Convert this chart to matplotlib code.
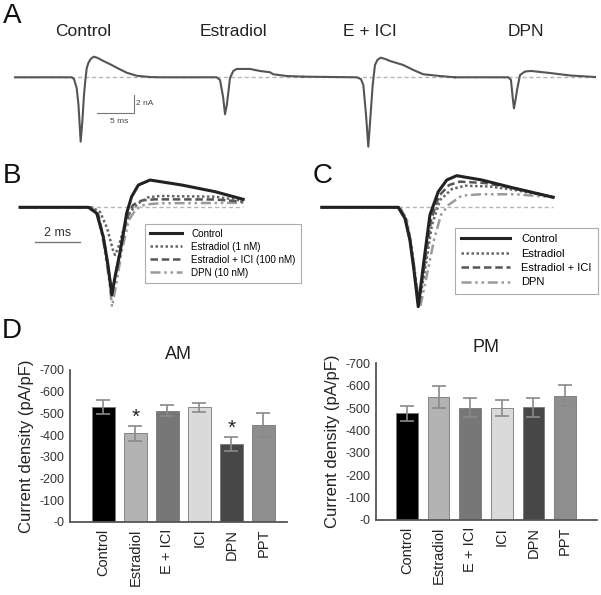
import matplotlib
matplotlib.use("Agg")
import matplotlib.pyplot as plt
from matplotlib.ticker import FuncFormatter

plt.rcParams['font.family'] = ['Liberation Sans', 'DejaVu Sans']

W, H = 601, 595

# ---------------- Panel A data (time in ms, current in nA) ----------------
a_titles = ["Control", "Estradiol", "E + ICI", "DPN"]
a_title_t = [9.3, 29.8, 48.4, 69.7]

a_ctrl_t = [0, 7.73, 8.05, 8.42, 8.66, 8.96, 9.2, 9.41, 9.6, 9.78, 10.0, 10.23, 10.5, 10.78, 11.3, 12.05, 13.0, 13.87, 15.24, 16.6, 18.4]
a_ctrl_i = [0, 0, -0.19, -1.2, -3.0, -7.02, -4.66, -1.93, -0.3, 0.98, 1.55, 1.89, 2.12, 2.25, 2.1, 1.78, 1.42, 1.05, 0.5, 0.17, 0.03]

a_estr_t = [18.4, 19.8, 27.5, 27.97, 28.4, 28.65, 28.9, 29.06, 29.33, 29.78, 30.25, 32.06, 33.42, 34.79, 35.24, 37.07, 39.33]
a_estr_i = [0.03, 0, 0, -0.29, -2.2, -4.03, -3.0, -1.93, -0.08, 0.69, 0.91, 0.91, 0.69, 0.55, 0.33, 0.14, 0.07]

a_eici_t = [39.33, 46.62, 47.2, 47.52, 47.9, 48.2, 48.5, 48.8, 49.11, 49.45, 49.89, 50.5, 51.16, 52.97, 54.34, 55.7, 57.98, 60.0]
a_eici_i = [0.07, 0, -0.2, -0.84, -4.2, -7.57, -4.2, -0.84, 1.34, 1.9, 2.14, 2.0, 1.78, 1.34, 0.8, 0.33, 0.14, 0]

a_dpn_t = [60.0, 67.3, 67.66, 67.9, 68.07, 68.3, 68.49, 68.9, 69.58, 70.4, 72.98, 75.7, 79.13]
a_dpn_i = [0, 0, -0.29, -2.2, -3.38, -2.4, -1.38, 0.25, 0.63, 0.69, 0.47, 0.2, 0.03]

# ---------------- Panel B data (time ms, normalized current) ----------------
b_labels = ["Control", "Estradiol (1 nM)", "Estradiol + ICI (100 nM)", "DPN (10 nM)"]
b_ctrl_t = [0, 3.04, 3.41, 3.70, 3.91, 4.08, 4.24, 4.44, 4.74, 4.96, 5.26, 5.78, 7.19, 8.67, 9.92]
b_ctrl_i = [0, 0, -0.068, -0.335, -0.658, -1.0, -0.772, -0.524, -0.068, 0.121, 0.254, 0.311, 0.254, 0.178, 0.091]
b_estr_t = [0, 3.2, 3.56, 3.87, 4.13, 4.22, 4.36, 4.62, 4.89, 5.26, 5.7, 6.22, 8.67, 9.92]
b_estr_i = [0, 0, -0.054, -0.236, -0.487, -0.544, -0.464, -0.236, -0.054, 0.046, 0.114, 0.129, 0.121, 0.075]
b_eici_t = [0, 3.11, 3.47, 3.73, 3.93, 4.09, 4.27, 4.49, 4.76, 5.02, 5.42, 6.0, 8.67, 9.92]
b_eici_i = [0, 0, -0.076, -0.373, -0.715, -0.977, -0.738, -0.43, -0.122, 0.026, 0.078, 0.091, 0.089, 0.064]
b_dpn_t = [0, 3.11, 3.47, 3.73, 3.96, 4.09, 4.27, 4.53, 4.84, 5.16, 5.56, 6.22, 8.67, 9.92]
b_dpn_i = [0, 0, -0.088, -0.43, -0.829, -1.133, -0.886, -0.487, -0.145, -0.019, 0.032, 0.046, 0.049, 0.052]

# ---------------- Panel C data ----------------
c_labels = ["Control", "Estradiol", "Estradiol + ICI", "DPN"]
c_ctrl_t = [0, 3.40, 3.70, 3.92, 4.10, 4.29, 4.52, 4.81, 5.18, 5.56, 6.0, 7.11, 8.59, 10.29]
c_ctrl_i = [0, 0, -0.111, -0.329, -0.631, -1.0, -0.58, -0.077, 0.157, 0.275, 0.318, 0.275, 0.191, 0.101]
c_estr_t = [0, 3.44, 3.75, 3.97, 4.15, 4.32, 4.59, 4.9, 5.26, 5.79, 6.37, 7.48, 8.59, 10.29]
c_estr_i = [0, 0, -0.118, -0.379, -0.681, -0.983, -0.631, -0.178, 0.073, 0.184, 0.217, 0.209, 0.174, 0.101]
c_eici_t = [0, 3.41, 3.72, 3.94, 4.12, 4.3, 4.55, 4.86, 5.21, 5.66, 6.14, 7.26, 8.59, 10.29]
c_eici_i = [0, 0, -0.113, -0.349, -0.651, -0.993, -0.611, -0.128, 0.114, 0.224, 0.258, 0.244, 0.191, 0.101]
c_dpn_t = [0, 3.48, 3.79, 4.01, 4.19, 4.37, 4.63, 4.99, 5.3, 5.63, 6.22, 7.04, 8.59, 10.29]
c_dpn_i = [0, 0, -0.128, -0.409, -0.731, -1.012, -0.731, -0.329, -0.077, 0.023, 0.117, 0.131, 0.131, 0.101]

# ---------------- Panel D data ----------------
d_categories = ["Control", "Estradiol", "E + ICI", "ICI", "DPN", "PPT"]
am_values = [531, 407, 512, 527, 358, 446]
am_errors = [32, 36, 25, 21, 34, 55]
pm_values = [476, 550, 501, 500, 503, 555]
pm_errors = [34, 48, 42, 35, 44, 47]
am_sig = [False, True, False, False, True, False]
d_colors = ["#000000", "#b3b3b3", "#777777", "#dadada", "#474747", "#8e8e8e"]

fig = plt.figure(figsize=(W / 100, H / 100), dpi=100)


def rect(x0, y0, x1, y1):
    return [x0 / W, 1 - y1 / H, (x1 - x0) / W, (y1 - y0) / H]


trace_gray = "#555555"
base_gray = "#b5b5b5"

# ---------------- Panel A ----------------
axA = fig.add_axes(rect(0, 0, 601, 160))
axA.set_xlim(-15 / 7.33, (601 - 15) / 7.33)
axA.set_ylim((77.3 - 160) / 9.17, 77.3 / 9.17)
axA.axis("off")
axA.plot([a_ctrl_t[0], a_dpn_t[-1]], [0, 0], ls=(0, (3, 2)), color=base_gray, lw=1.0)
for tt, ii in [(a_ctrl_t, a_ctrl_i), (a_estr_t, a_estr_i), (a_eici_t, a_eici_i), (a_dpn_t, a_dpn_i)]:
    axA.plot(tt, ii, color=trace_gray, lw=1.5, solid_joinstyle="round")
for t, lab in zip(a_title_t, a_titles):
    axA.text(t, (77.3 - 31.5) / 9.17, lab, ha="center", va="center", fontsize=12.5, color="#222222")
# scale bar 5 ms / 2 nA
sb_t0, sb_t1 = 11.23, 16.23
sb_i0, sb_i1 = -3.93, -1.93
axA.plot([sb_t0, sb_t1, sb_t1], [sb_i0, sb_i0, sb_i1], color="#777777", lw=0.8)
axA.text(sb_t1 + 0.3, (sb_i0 + sb_i1) / 2 + 0.05, "2 nA", fontsize=6, va="center", ha="left", color="#444444")
axA.text((sb_t0 + sb_t1) / 2 + 0.5, sb_i0 - 0.85, "5 ms", fontsize=6, va="center", ha="center", color="#444444")

# ---------------- Panel B ----------------
styles = [
    dict(color="#222222", lw=2.2, ls="-"),
    dict(color="#666666", lw=1.8, ls=(0, (1, 1))),
    dict(color="#555555", lw=1.8, ls=(0, (3, 1.5))),
    dict(color="#9a9a9a", lw=1.8, ls=(0, (4, 1.5, 1, 1.5, 1, 1.5))),
]

axB = fig.add_axes(rect(0, 160, 300, 318))
axB.set_xlim(-20 / 22.5, 280 / 22.5)
axB.set_ylim((207.3 - 318) / 87.7, (207.3 - 160) / 87.7)
axB.axis("off")
axB.plot([0, b_ctrl_t[-1]], [0, 0], ls=(0, (3, 2)), color=base_gray, lw=1.0)
linesB = []
for (tt, ii), st, lab in zip([(b_dpn_t, b_dpn_i), (b_eici_t, b_eici_i), (b_estr_t, b_estr_i), (b_ctrl_t, b_ctrl_i)],
                             styles[::-1], b_labels[::-1]):
    ln, = axB.plot(tt, ii, label=lab, **st)
    linesB.append(ln)
linesB = linesB[::-1]
axB.plot([0.667, 2.667], [-0.392, -0.392], color="#777777", lw=1.0)
axB.text(1.667, -0.293, "2 ms", ha="center", va="center", fontsize=9, color="#333333")
legB = fig.legend(handles=linesB, labels=b_labels, loc="upper left",
                  bbox_to_anchor=(145 / W, 1 - 224 / H), fontsize=7.1, frameon=True,
                  fancybox=False, edgecolor="#999999", handlelength=3.3, handletextpad=0.9,
                  labelspacing=0.3, borderpad=0.5, borderaxespad=0)
legB.get_frame().set_linewidth(0.8)

# ---------------- Panel C ----------------
axC = fig.add_axes(rect(300, 160, 601, 318))
axC.set_xlim((300 - 321.7) / 22.5, (601 - 321.7) / 22.5)
axC.set_ylim((207.3 - 318) / 99.4, (207.3 - 160) / 99.4)
axC.axis("off")
axC.plot([0, c_ctrl_t[-1]], [0, 0], ls=(0, (3, 2)), color=base_gray, lw=1.0)
linesC = []
for (tt, ii), st, lab in zip([(c_dpn_t, c_dpn_i), (c_eici_t, c_eici_i), (c_estr_t, c_estr_i), (c_ctrl_t, c_ctrl_i)],
                             styles[::-1], c_labels[::-1]):
    ln, = axC.plot(tt, ii, label=lab, **st)
    linesC.append(ln)
linesC = linesC[::-1]
legC = fig.legend(handles=linesC, labels=c_labels, loc="upper left",
                  bbox_to_anchor=(455 / W, 1 - 228 / H), fontsize=8, frameon=True,
                  fancybox=False, edgecolor="#999999", handlelength=4.4, handletextpad=1.0,
                  labelspacing=0.4, borderpad=0.55, borderaxespad=0)
legC.get_frame().set_linewidth(0.8)

# ---------------- Panel D ----------------
def bar_panel(ax, values, errors, xlim, width, title, sig=None):
    x = list(range(len(values)))
    ax.bar(x, values, width=width, color=d_colors, edgecolor="#777777", linewidth=0.6,
           yerr=errors, error_kw=dict(ecolor="#8a8a8a", elinewidth=1.2, capsize=5, capthick=1.2))
    ax.set_xlim(*xlim)
    ax.set_ylim(0, 700)
    ax.set_yticks(range(0, 701, 100))
    ax.yaxis.set_major_formatter(FuncFormatter(lambda v, p: "-%d" % int(round(v))))
    ax.set_xticks(x)
    ax.set_xticklabels(d_categories, rotation=90, fontsize=10.5, color="#222222")
    ax.tick_params(axis="x", length=0, pad=5)
    ax.tick_params(axis="y", length=0, pad=4, labelsize=9, labelcolor="#333333")
    for s in ["top", "right"]:
        ax.spines[s].set_visible(False)
    for s in ["left", "bottom"]:
        ax.spines[s].set_color("#555555")
        ax.spines[s].set_linewidth(1.3)
    ax.set_ylabel("Current density (pA/pF)", fontsize=12, color="#222222", labelpad=4)
    ax.set_title(title, fontsize=13, color="#222222", pad=8)
    if sig is not None:
        for xi, (v, e, s) in enumerate(zip(values, errors, sig)):
            if s:
                ax.text(xi, v + e + 40, "*", ha="center", va="center", fontsize=15, color="#222222")


axAM = fig.add_axes(rect(70, 370, 286.7, 521.7))
bar_panel(axAM, am_values, am_errors, (-1.04, 5.73), 0.73, "AM", am_sig)
axPM = fig.add_axes(rect(376, 363.3, 596.7, 520))
bar_panel(axPM, pm_values, pm_errors, (-0.98, 6.0), 0.68, "PM")

# panel letters
for lab, px, py in [("A", 3, 3), ("B", 3, 163), ("C", 313, 163), ("D", 2, 318)]:
    fig.text(px / W, 1 - py / H, lab, fontsize=20, ha="left", va="top", color="#111111")

fig.savefig("out.png", dpi=100)
